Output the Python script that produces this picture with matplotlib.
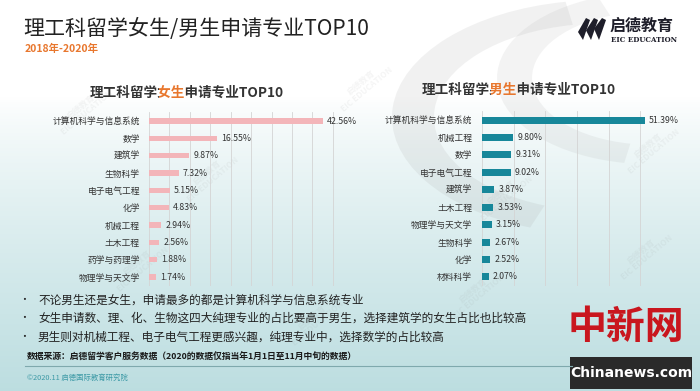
import numpy as np
import matplotlib
matplotlib.use("Agg")
import matplotlib.pyplot as plt
from matplotlib.patches import Rectangle, Polygon, Wedge
from matplotlib.transforms import Bbox, TransformedBbox
from matplotlib.ticker import MultipleLocator

plt.rcParams["font.family"] = ["Noto Sans CJK SC", "DejaVu Sans"]
plt.rcParams["axes.unicode_minus"] = False

# 数据
female_majors = ["计算机科学与信息系统", "数学", "建筑学", "生物科学", "电子电气工程",
                 "化学", "机械工程", "土木工程", "药学与药理学", "物理学与天文学"]
female_pct = [42.56, 16.55, 9.87, 7.32, 5.15, 4.83, 2.94, 2.56, 1.88, 1.74]

male_majors = ["计算机科学与信息系统", "机械工程", "数学", "电子电气工程", "建筑学",
               "土木工程", "物理学与天文学", "生物科学", "化学", "材料科学"]
male_pct = [51.39, 9.80, 9.31, 9.02, 3.87, 3.53, 3.15, 2.67, 2.52, 2.07]

notes = ["不论男生还是女生，申请最多的都是计算机科学与信息系统专业",
         "女生申请数、理、化、生物这四大纯理专业的占比要高于男生，选择建筑学的女生占比也比较高",
         "男生则对机械工程、电子电气工程更感兴趣，纯理专业中，选择数学的占比较高"]

W, H = 700, 391
PINK = "#f3b5b9"
TEAL = "#17879a"
ORANGE = "#e8772e"


def fx(x):
    return x / W


def fy(y):
    return 1 - y / H


fig = plt.figure(figsize=(7, 3.91), dpi=100)
renderer = fig.canvas.get_renderer()

# 背景渐变
bg = fig.add_axes([0, 0, 1, 1], zorder=-10)
t = np.linspace(0, 1, 256)
ramp = np.clip((t - 0.25) / 0.75, 0, 1) ** 0.8
top = np.array([1.0, 1.0, 1.0])
bot = np.array([0.74, 0.87, 0.88])
grad = top[None, :] * (1 - ramp[:, None]) + bot[None, :] * ramp[:, None]
bg.imshow(grad[:, None, :], aspect="auto", extent=[0, 1, 0, 1], origin="upper")
bg.set_xlim(0, 1)
bg.set_ylim(0, 1)
bg.axis("off")

# 右上角大灰色弧形
bg.add_patch(Wedge((0.86, 0.70), 0.30, 100, 250, width=0.06, transform=bg.transAxes,
                   color="#a0a0a0", alpha=0.14, lw=0))
bg.add_patch(Wedge((0.93, 0.80), 0.22, 110, 260, width=0.05, transform=bg.transAxes,
                   color="#a0a0a0", alpha=0.12, lw=0))

# 水印
for wx, wy in [(0.12, 0.72), (0.30, 0.55), (0.52, 0.78), (0.72, 0.50),
               (0.93, 0.62), (0.20, 0.32), (0.45, 0.18), (0.68, 0.25), (0.92, 0.35)]:
    bg.text(wx, wy, "启德教育\nEIC EDUCATION", rotation=40, fontsize=6,
            color="#8c8c8c", alpha=0.09, ha="center", va="center",
            fontweight="bold", linespacing=0.9)

# 标题
fig.text(fx(23), fy(29), "理工科留学女生/男生申请专业TOP10", fontsize=15.1,
         color="#222222", va="center", ha="left")
fig.text(fx(25), fy(49), "2018年-2020年", fontsize=7.5, color=ORANGE,
         style="italic", fontweight="bold", va="center", ha="left")

# logo
for dx in [0, 8, 16]:
    fig.patches.append(Polygon([(fx(578 + dx), fy(32 - dx * 0.2)), (fx(586 + dx), fy(18)),
                                (fx(590 + dx), fy(20)), (fx(583 + dx), fy(40))],
                               closed=True, transform=fig.transFigure,
                               color="#1e1e2a", lw=0))
fig.text(fx(610), fy(26), "启德教育", fontsize=11.5, color="#1e1e2a",
         fontweight="bold", va="center", ha="left")
fig.text(fx(611), fy(40), "EIC EDUCATION", fontsize=5, color="#1e1e2a",
         family="DejaVu Serif", fontweight="bold", va="center", ha="left")


def text_w(s):
    tt = fig.text(0, 0, s, fontsize=9.8, fontweight="bold")
    w = tt.get_window_extent(renderer=renderer).width
    tt.remove()
    return w


def sub_title(x, y, word):
    # 整句画三遍，各自裁剪，中间两个字用橙色
    head, tail = "理工科留学", "申请专业TOP10"
    full = head + word + tail
    b1 = x + text_w(head) + 1
    b2 = x + text_w(head + word) + 1
    for x0, x1, c in [(0, b1, "#333333"), (b1, b2, ORANGE), (b2, W, "#333333")]:
        tt = fig.text(fx(x), fy(y), full, fontsize=9.8, fontweight="bold",
                      color=c, va="center", ha="left")
        tt.set_clip_box(TransformedBbox(Bbox([[fx(x0), 0], [fx(x1), 1]]),
                                        fig.transFigure))


sub_title(90, 93, "女生")
sub_title(422, 90, "男生")


def bar_panel(rect, majors, pct, color, xmax, step, height, pad):
    ax = fig.add_axes(rect)
    y = np.arange(len(majors))
    ax.barh(y, pct, height=height, color=color, zorder=2)
    for yi, v in zip(y, pct):
        ax.annotate(f"{v:.2f}%", xy=(v, yi), xytext=(3, 0), textcoords="offset points",
                    va="center", ha="left", fontsize=6.3, color="#333333", zorder=3)
    ax.set_xlim(0, xmax)
    ax.set_ylim(len(majors) - 0.5, -0.5)
    ax.set_yticks(y)
    ax.set_yticklabels(majors, fontsize=6.3, color="#333333")
    ax.tick_params(axis="y", length=0, pad=pad)
    ax.tick_params(axis="x", length=0, labelbottom=False)
    ax.xaxis.set_major_locator(MultipleLocator(step))
    ax.grid(axis="x", color="#d4d4d4", lw=0.6, zorder=0)
    for s in ax.spines.values():
        s.set_visible(False)
    ax.patch.set_alpha(0)
    return ax


bar_panel([fx(149), fy(285.7), 196 / W, 173.3 / H], female_majors, female_pct,
          PINK, 48, 5, 0.32, 6.5)
bar_panel([fx(482), fy(285.7), 190 / W, 174.4 / H], male_majors, male_pct,
          TEAL, 60, 10, 0.4, 7)

# 说明文字
for i, s in enumerate(notes):
    yy = fy(300 + i * 18.5)
    fig.text(fx(19), yy, "•", fontsize=7, color="#222222", va="center", ha="left")
    fig.text(fx(38), yy, s, fontsize=8.4, color="#222222", va="center", ha="left")

fig.text(fx(27), fy(356), "数据来源：启德留学客户服务数据（2020的数据仅指当年1月1日至11月中旬的数据）",
         fontsize=6.35, color="#1a1a1a", fontweight="bold", style="italic",
         va="center", ha="left")
fig.add_artist(plt.Line2D([fx(25), fx(572)], [fy(366), fy(366)], color="#7fa9ad",
                          lw=0.8, transform=fig.transFigure))
fig.text(fx(27), fy(378), "©2020.11 启德国际教育研究院", fontsize=5.3, color="#3d9aa6",
         va="center", ha="left")

# 中新网水印
fig.text(fx(626), fy(328), "中新网", fontsize=28, color="#c9161e", fontweight="bold",
         va="center", ha="center")
fig.patches.append(Rectangle((fx(570), fy(389)), 122 / W, 32 / H,
                             transform=fig.transFigure, color="#2a2a2a", lw=0))
fig.text(fx(631), fy(373), "Chinanews.com", fontsize=10, color="white",
         fontweight="bold", family="Liberation Sans Narrow",
         va="center", ha="center")

fig.savefig("out.png", dpi=100)
